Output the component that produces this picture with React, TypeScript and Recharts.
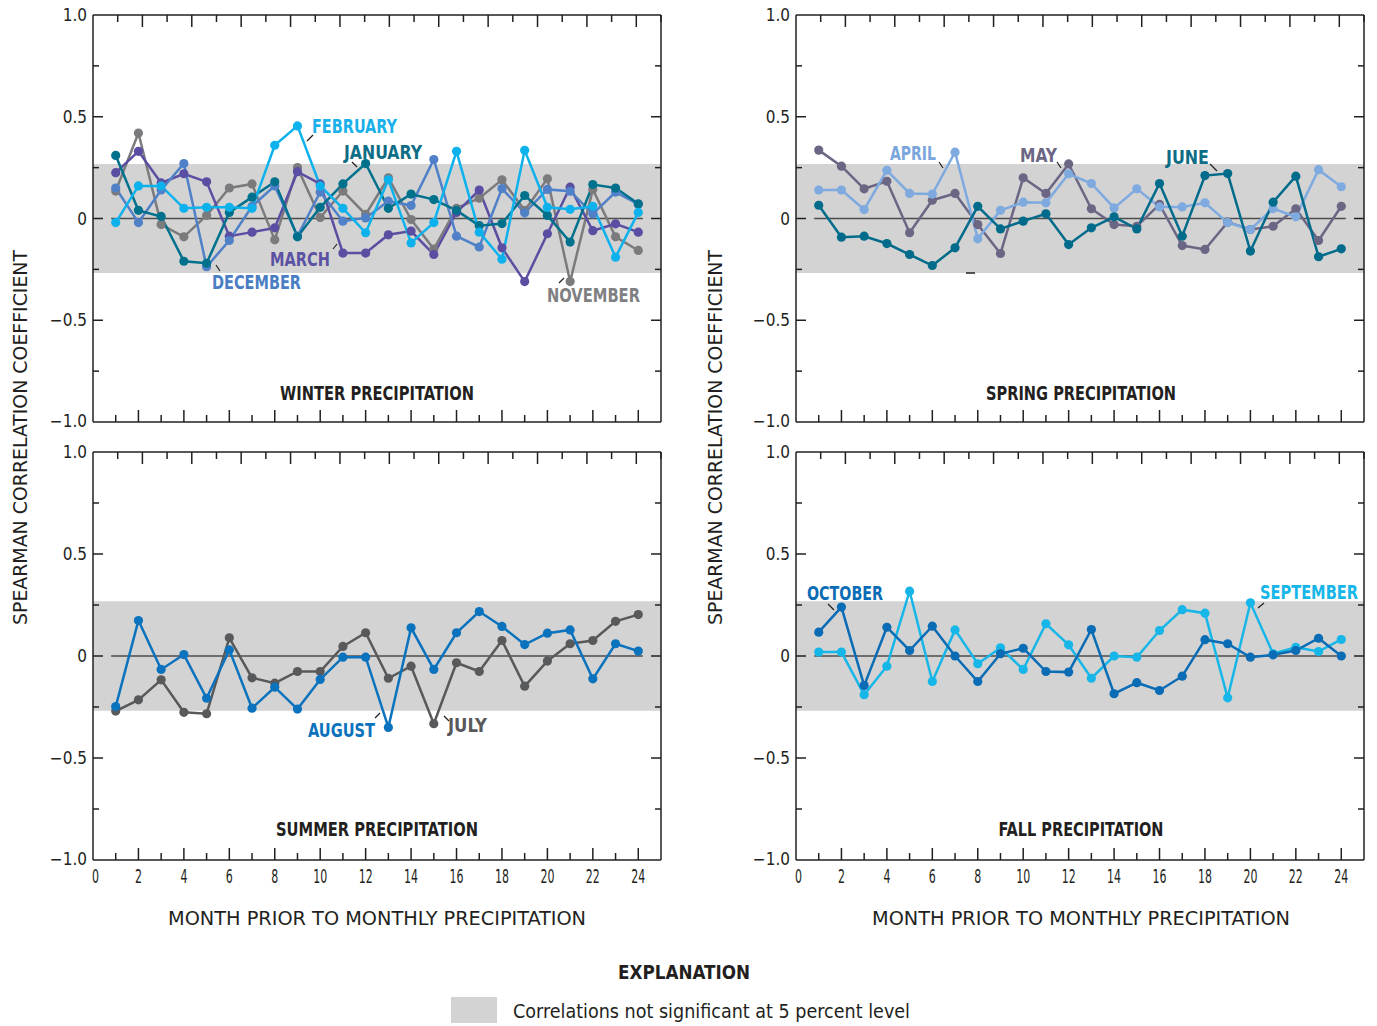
import React from "react";
import { LineChart, Line, XAxis, YAxis, ReferenceArea, ReferenceLine } from "recharts";

// ---------- data ----------
const MONTHS = [1, 2, 3, 4, 5, 6, 7, 8, 9, 10, 11, 12, 13, 14, 15, 16, 17, 18, 19, 20, 21, 22, 23, 24];
const X_TICKS = [0, 1, 2, 3, 4, 5, 6, 7, 8, 9, 10, 11, 12, 13, 14, 15, 16, 17, 18, 19, 20, 21, 22, 23, 24];
const Y_TICKS = [-1, -0.75, -0.5, -0.25, 0, 0.25, 0.5, 0.75, 1];
const Y_TICK_LABELS: Record<string, string> = { "1": "1.0", "0.5": "0.5", "0": "0", "-0.5": "\u22120.5", "-1": "\u22121.0" };
const SIG_LIMIT = 0.268;

// Winter
const NOVEMBER = [0.135, 0.42, -0.03, -0.09, 0.015, 0.15, 0.17, -0.105, 0.25, 0.005, 0.135, 0.02, 0.2, -0.005, -0.15, 0.05, 0.1, 0.19, 0.04, 0.195, -0.31, 0.143, -0.09, -0.157];
const DECEMBER = [0.15, -0.02, 0.14, 0.27, -0.237, -0.108, 0.06, 0.16, -0.087, 0.13, -0.013, 0.003, 0.085, 0.064, 0.29, -0.087, -0.14, 0.147, 0.028, 0.143, 0.134, 0.023, 0.13, 0.07];
const JANUARY = [0.31, 0.04, 0.01, -0.21, -0.22, 0.03, 0.105, 0.18, -0.09, 0.055, 0.17, 0.27, 0.05, 0.12, 0.093, 0.04, -0.035, -0.025, 0.113, 0.015, -0.116, 0.167, 0.15, 0.072];
const FEBRUARY = [-0.02, 0.16, 0.16, 0.05, 0.055, 0.055, 0.05, 0.36, 0.455, 0.16, 0.05, -0.07, 0.19, -0.12, -0.02, 0.33, -0.067, -0.2, 0.335, 0.055, 0.045, 0.06, -0.19, 0.03];
const MARCH = [0.225, 0.33, 0.175, 0.22, 0.18, -0.087, -0.067, -0.046, 0.23, 0.17, -0.17, -0.17, -0.08, -0.062, -0.177, 0.03, 0.14, -0.144, -0.31, -0.075, 0.154, -0.06, -0.026, -0.067];
// Spring
const APRIL = [0.14, 0.14, 0.044, 0.237, 0.123, 0.12, 0.326, -0.1, 0.04, 0.08, 0.077, 0.22, 0.172, 0.052, 0.146, 0.057, 0.057, 0.077, -0.02, -0.054, 0.049, 0.008, 0.24, 0.156];
const MAY = [0.336, 0.257, 0.146, 0.183, -0.07, 0.09, 0.123, -0.03, -0.172, 0.2, 0.123, 0.268, 0.048, -0.03, -0.038, 0.069, -0.133, -0.152, -0.018, -0.054, -0.038, 0.048, -0.108, 0.06];
const JUNE = [0.065, -0.092, -0.087, -0.123, -0.177, -0.231, -0.144, 0.06, -0.051, -0.013, 0.023, -0.128, -0.046, 0.008, -0.051, 0.172, -0.087, 0.211, 0.221, -0.16, 0.08, 0.208, -0.188, -0.149];
// Summer
const JULY = [-0.27, -0.215, -0.117, -0.276, -0.283, 0.089, -0.107, -0.133, -0.076, -0.076, 0.047, 0.114, -0.109, -0.05, -0.332, -0.033, -0.076, 0.076, -0.148, -0.025, 0.06, 0.076, 0.17, 0.203];
const AUGUST = [-0.248, 0.174, -0.066, 0.007, -0.207, 0.03, -0.256, -0.153, -0.26, -0.115, -0.006, -0.006, -0.35, 0.138, -0.066, 0.114, 0.218, 0.145, 0.056, 0.112, 0.128, -0.112, 0.06, 0.024];
// Fall
const SEPTEMBER = [0.019, 0.019, -0.19, -0.05, 0.318, -0.125, 0.128, -0.038, 0.04, -0.066, 0.158, 0.055, -0.109, 0, -0.006, 0.125, 0.227, 0.21, -0.205, 0.261, 0.011, 0.043, 0.022, 0.081];
const OCTOBER = [0.117, 0.24, -0.145, 0.141, 0.027, 0.146, 0, -0.125, 0.011, 0.038, -0.076, -0.079, 0.13, -0.185, -0.131, -0.169, -0.099, 0.08, 0.06, -0.006, 0.006, 0.027, 0.087, 0];

// ---------- styling ----------
const FONT = "'Liberation Sans Narrow', 'Arial Narrow', 'DejaVu Sans Condensed', 'Roboto', sans-serif";
const INK = "#231f20";
const AXIS = { stroke: INK, strokeWidth: 1.5 };

type Series = { key: string; values: number[]; color: string };

function buildRows(series: Series[]) {
  return MONTHS.map((m, i) => {
    const row: Record<string, number> = { month: m };
    series.forEach((s) => (row[s.key] = s.values[i]));
    return row;
  });
}

const DIGIT_W = 7;

const makeBottomTick = (showLabels: boolean) => (props: any) => {
  const { x, y, payload } = props;
  const v = payload.value as number;
  const major = v % 2 === 0;
  const label = String(v);
  const shift = v === 0 ? 2.5 : 0;
  return (
    <g>
      {v > 0 && <line x1={x} x2={x} y1={y} y2={y - (major ? 12 : 7)} stroke={INK} strokeWidth={1.5} />}
      {showLabels && major && (
        <text x={x + shift} y={y + 23} textAnchor="middle" fontFamily={FONT} fontSize={20} fill={INK} textLength={label.length * DIGIT_W} lengthAdjust="spacingAndGlyphs">
          {label}
        </text>
      )}
    </g>
  );
};

const TopTick = (props: any) => {
  const { x, y, payload } = props;
  const v = payload.value as number;
  const major = v % 2 === 0;
  if (v <= 0) return <g />;
  return <line x1={x} x2={x} y1={y} y2={y + (major ? 12 : 7)} stroke={INK} strokeWidth={1.5} />;
};

const LeftTick = (props: any) => {
  const { x, y, payload } = props;
  const v = payload.value as number;
  const label = Y_TICK_LABELS[String(v)];
  const major = label !== undefined;
  const dy = v === -1 ? 5 : 6;
  return (
    <g>
      {Math.abs(v) < 1 && <line x1={x} x2={x + (major ? 10 : 6)} y1={y} y2={y} stroke={INK} strokeWidth={1.5} />}
      {major && (
        <text x={x - 6} y={y + dy} textAnchor="end" fontFamily={FONT} fontSize={17} fill={INK}>
          {label}
        </text>
      )}
    </g>
  );
};

const RightTick = (props: any) => {
  const { x, y, payload } = props;
  const v = payload.value as number;
  const major = Y_TICK_LABELS[String(v)] !== undefined;
  if (Math.abs(v) >= 1) return <g />;
  return <line x1={x} x2={x - (major ? 10 : 6)} y1={y} y2={y} stroke={INK} strokeWidth={1.5} />;
};

type PanelProps = { left: number; top: number; w: number; h: number; series: Series[]; xLabels: boolean };

function Panel({ left, top, w, h, series, xLabels }: PanelProps) {
  const mL = 60, mR = 10, mT = 12, mB = 34;
  const rows = buildRows(series);
  return (
    <div style={{ position: "absolute", left: left - mL, top: top - mT }}>
      <LineChart width={w + mL + mR} height={h + mT + mB} data={rows} margin={{ top: mT - 1, right: mR - 1, bottom: mB - 1, left: mL - 1 }}>
        <ReferenceArea y1={-SIG_LIMIT} y2={SIG_LIMIT} fill="#d3d3d3" fillOpacity={1} stroke="none" />
        <ReferenceLine segment={[{ x: 0.8, y: 0 }, { x: 24.2, y: 0 }]} stroke="#4d4d4d" strokeWidth={1.5} />
        <XAxis dataKey="month" type="number" domain={[0, 25]} ticks={X_TICKS} interval={0} height={1} tickSize={0} tickMargin={0} axisLine={AXIS} tickLine={false} tick={makeBottomTick(xLabels)} allowDataOverflow />
        <XAxis xAxisId="top" orientation="top" type="number" domain={[0, 25]} ticks={X_TICKS} interval={0} height={1} tickSize={0} tickMargin={0} axisLine={AXIS} tickLine={false} tick={TopTick} allowDataOverflow />
        <YAxis type="number" domain={[-1, 1]} ticks={Y_TICKS} interval={0} width={1} tickSize={0} tickMargin={0} axisLine={AXIS} tickLine={false} tick={LeftTick} allowDataOverflow />
        <YAxis yAxisId="right" orientation="right" type="number" domain={[-1, 1]} ticks={Y_TICKS} interval={0} width={1} tickSize={0} tickMargin={0} axisLine={AXIS} tickLine={false} tick={RightTick} allowDataOverflow />
        {series.map((s) => (
          <Line
            key={s.key}
            type="linear"
            dataKey={s.key}
            stroke={s.color}
            strokeWidth={2.5}
            dot={{ r: 4.6, fill: s.color, stroke: s.color, strokeWidth: 0 }}
            activeDot={false}
            isAnimationActive={false}
          />
        ))}
      </LineChart>
    </div>
  );
}

const WINTER: Series[] = [
  { key: "NOVEMBER", values: NOVEMBER, color: "#7b7b7e" },
  { key: "MARCH", values: MARCH, color: "#5a4ea3" },
  { key: "DECEMBER", values: DECEMBER, color: "#4f80c8" },
  { key: "JANUARY", values: JANUARY, color: "#00718c" },
  { key: "FEBRUARY", values: FEBRUARY, color: "#0db2ec" },
];
const SPRING: Series[] = [
  { key: "MAY", values: MAY, color: "#6a6684" },
  { key: "APRIL", values: APRIL, color: "#7eaae0" },
  { key: "JUNE", values: JUNE, color: "#006b8a" },
];
const SUMMER: Series[] = [
  { key: "JULY", values: JULY, color: "#58595b" },
  { key: "AUGUST", values: AUGUST, color: "#0b72bd" },
];
const FALL: Series[] = [
  { key: "SEPTEMBER", values: SEPTEMBER, color: "#16b6e8" },
  { key: "OCTOBER", values: OCTOBER, color: "#0a6cb5" },
];

type Note = { text: string; x: number; y: number; w: number; color: string; lead: [number, number, number, number] };
const NOTES: Note[] = [
  { text: "FEBRUARY", x: 312, y: 133, w: 85, color: "#1ab0ea", lead: [307, 141, 313, 135] },
  { text: "JANUARY", x: 344, y: 159, w: 78, color: "#0f6d85", lead: [352, 162, 357, 167] },
  { text: "MARCH", x: 270, y: 266, w: 60, color: "#5c52a3", lead: [333, 249, 337, 244] },
  { text: "DECEMBER", x: 212, y: 289, w: 89, color: "#4a7ec4", lead: [216, 265, 220, 271] },
  { text: "NOVEMBER", x: 547, y: 302, w: 93, color: "#808082", lead: [559, 283, 564, 278] },
  { text: "APRIL", x: 890, y: 160, w: 46, color: "#7aa6dc", lead: [939, 162, 943, 168] },
  { text: "MAY", x: 1020, y: 162, w: 37, color: "#6a6684", lead: [1057, 162, 1061, 168] },
  { text: "JUNE", x: 1166, y: 164, w: 43, color: "#0f6d85", lead: [1210, 164, 1217, 171] },
  { text: "AUGUST", x: 308, y: 737, w: 67, color: "#0b72bd", lead: [375, 718, 380, 713] },
  { text: "JULY", x: 448, y: 732, w: 39, color: "#58595b", lead: [444, 716, 449, 721] },
  { text: "OCTOBER", x: 807, y: 600, w: 76, color: "#0a6cb5", lead: [828, 604, 834, 610] },
  { text: "SEPTEMBER", x: 1260, y: 599, w: 98, color: "#16b6e8", lead: [1258, 608, 1264, 603] },
];

type Title = { text: string; cx: number; y: number; w: number };
const TITLES: Title[] = [
  { text: "WINTER PRECIPITATION", cx: 377, y: 400, w: 194 },
  { text: "SPRING PRECIPITATION", cx: 1081, y: 400, w: 190 },
  { text: "SUMMER PRECIPITATION", cx: 377, y: 836, w: 202 },
  { text: "FALL PRECIPITATION", cx: 1081, y: 836, w: 165 },
];

export default function App() {
  return (
    <div style={{ position: "absolute", left: 0, top: 0, width: 1377, height: 1026, background: "#fff", overflow: "hidden" }}>
      <Panel left={93} top={15} w={568} h={407} series={WINTER} xLabels={false} />
      <Panel left={796} top={15} w={568} h={407} series={SPRING} xLabels={false} />
      <Panel left={93} top={452} w={568} h={408} series={SUMMER} xLabels={true} />
      <Panel left={796} top={452} w={568} h={408} series={FALL} xLabels={true} />
      <svg width={1377} height={1026} style={{ position: "absolute", left: 0, top: 0, pointerEvents: "none" }}>
        {NOTES.map((n) => (
          <g key={n.text}>
            <text x={n.x} y={n.y} fontFamily={FONT} fontWeight="bold" fontSize={19} fill={n.color} textLength={n.w} lengthAdjust="spacingAndGlyphs">
              {n.text}
            </text>
            <line x1={n.lead[0]} y1={n.lead[1]} x2={n.lead[2]} y2={n.lead[3]} stroke={INK} strokeWidth={1.2} />
          </g>
        ))}
        <line x1={966} y1={273} x2={975} y2={273} stroke={INK} strokeWidth={1.5} />
        {TITLES.map((t) => (
          <text key={t.text} x={t.cx - t.w / 2} y={t.y} fontFamily={FONT} fontWeight="bold" fontSize={19} fill={INK} textLength={t.w} lengthAdjust="spacingAndGlyphs">
            {t.text}
          </text>
        ))}
        <text x={168} y={925} fontFamily={FONT} fontSize={20} fill={INK} textLength={418} lengthAdjust="spacingAndGlyphs">
          MONTH PRIOR TO MONTHLY PRECIPITATION
        </text>
        <text x={872} y={925} fontFamily={FONT} fontSize={20} fill={INK} textLength={418} lengthAdjust="spacingAndGlyphs">
          MONTH PRIOR TO MONTHLY PRECIPITATION
        </text>
        <text transform="translate(27,625) rotate(-90)" fontFamily={FONT} fontSize={20} fill={INK} textLength={375} lengthAdjust="spacingAndGlyphs">
          SPEARMAN CORRELATION COEFFICIENT
        </text>
        <text transform="translate(722,625) rotate(-90)" fontFamily={FONT} fontSize={20} fill={INK} textLength={375} lengthAdjust="spacingAndGlyphs">
          SPEARMAN CORRELATION COEFFICIENT
        </text>
        <text x={618} y={979} fontFamily={FONT} fontWeight="bold" fontSize={20} fill={INK} textLength={132} lengthAdjust="spacingAndGlyphs">
          EXPLANATION
        </text>
        <rect x={451} y={997} width={46} height={26} fill="#d3d3d3" />
        <text x={513} y={1018} fontFamily={FONT} fontSize={20} fill={INK} textLength={397} lengthAdjust="spacingAndGlyphs">
          Correlations not significant at 5 percent level
        </text>
      </svg>
    </div>
  );
}
